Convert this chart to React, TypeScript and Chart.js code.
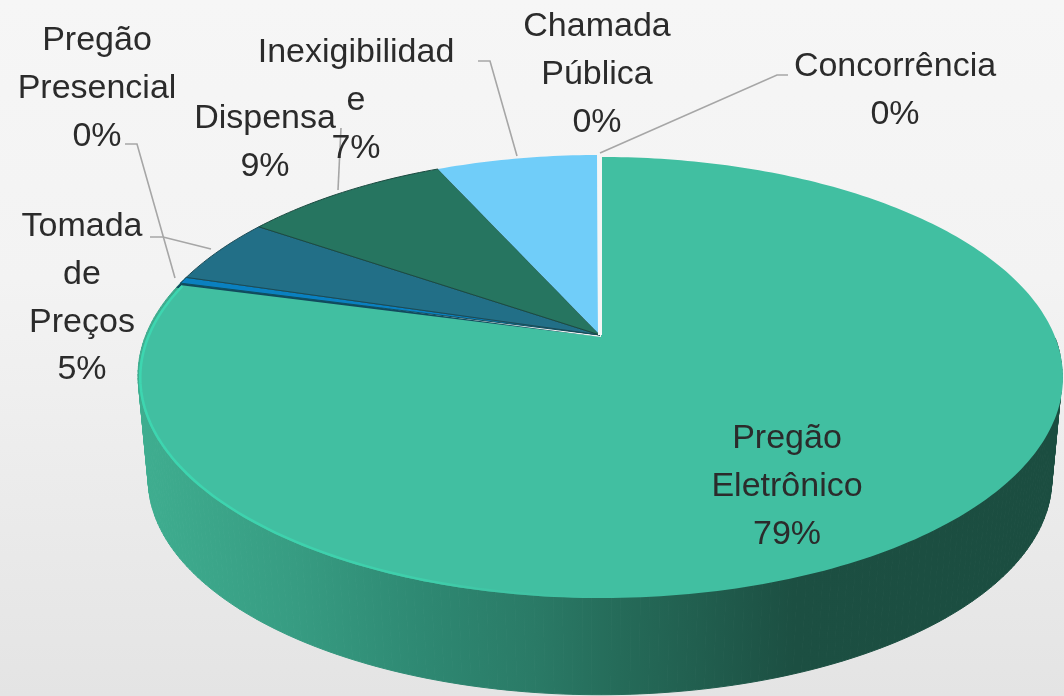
import React, { useEffect, useRef } from "react";
import { Chart, registerables } from "chart.js";

Chart.register(...registerables);

const categories = ["Pregão Eletrônico", "Pregão Presencial", "Tomada de Preços", "Dispensa", "Inexigibilidade", "Chamada Pública", "Concorrência"];
const shares = [79.1, 0.49, 4.87, 8.7, 6.8, 0.02, 0.02];
const sliceColors = ["#41bfa1", "#0a80c0", "#226f87", "#267560", "#70cdf9", "#f4f6f6", "#f4f6f6"];
const sliceBorders = ["#41bfa1", "#0f4f5e", "#1b4a55", "#1b4a40", "#70cdf9", "#f4f6f6", "#f4f6f6"];
const sliceBorderWidths = [0, 1, 1, 1, 0, 4, 4];
const labelLines = [
  ["Pregão", "Eletrônico"],
  ["Pregão", "Presencial"],
  ["Tomada", "de", "Preços"],
  ["Dispensa"],
  ["Inexigibilidad", "e"],
  ["Chamada", "Pública"],
  ["Concorrência"],
];
// label layout: centre x, first-line centre y
const labelAnchors = [[787, 439], [97, 41], [82, 227], [265, 119], [356, 53], [597, 27], [895, 67]];
const leaderLines = [
  null,
  [[125, 144], [137, 144], [175, 278]],
  [[150, 237], [163, 237], [211, 249]],
  [[341, 128], [338, 190]],
  [[478, 61], [490, 61], [517, 156]],
  null,
  [[788, 75], [777, 75], [600, 153]],
];

const geo = { cx: 600, cy: 335, a: 454.1, b: 213.1, k: 0.1837, ringCy: 377, ringScale: 0.978, depth: 103.5 };

function top(theta: number, dx = 0, dy = 0): [number, number] {
  const u = Math.cos(theta), v = Math.sin(theta);
  const w = 1 - geo.k * v;
  return [geo.cx + (geo.a * u) / w + dx, geo.cy + (geo.b * v) / w + dy];
}
function low(theta: number): [number, number] {
  const [x, y] = top(theta);
  return [geo.cx + geo.ringScale * (x - geo.cx), geo.ringCy + geo.ringScale * (y - geo.ringCy) + geo.depth];
}
function samples(s: number, e: number) {
  const n = Math.max(2, Math.ceil(((e - s) / (Math.PI * 2)) * 360));
  const out: number[] = [];
  for (let i = 0; i <= n; i++) out.push(s + ((e - s) * i) / n);
  return out;
}

const pie3d = {
  id: "pie3d",
  beforeDatasetsDraw(chart: any) {
    const ctx = chart.ctx as CanvasRenderingContext2D;
    const arcs = chart.getDatasetMeta(0).data as any[];
    ctx.save();
    // side wall
    const g = ctx.createLinearGradient(138, 0, 1063, 0);
    g.addColorStop(0, "#3fae90");
    g.addColorStop(0.17, "#379c82");
    g.addColorStop(0.31, "#2e8872");
    g.addColorStop(0.43, "#2a7a66");
    g.addColorStop(0.52, "#256b59");
    g.addColorStop(0.71, "#1c4f42");
    g.addColorStop(1, "#1b4d40");
    arcs.forEach((arc, i) => {
      const { startAngle: s, endAngle: e } = arc.getProps(["startAngle", "endAngle"]);
      const pts = samples(s, e);
      const fill = i === 0 ? g : "#124a5c";
      ctx.fillStyle = fill;
      ctx.strokeStyle = fill;
      ctx.lineWidth = 1;
      for (let j = 0; j < pts.length - 1; j++) {
        if (Math.sin(pts[j]) < (i === 0 ? 0 : -0.3) && i <= 1 ? (i === 1 ? false : Math.cos(pts[j]) > 0) : i > 1) continue;
        const a = top(pts[j]), b = top(pts[j + 1]), c = low(pts[j + 1]), d = low(pts[j]);
        ctx.beginPath();
        ctx.moveTo(a[0], a[1]);
        ctx.lineTo(b[0], b[1]);
        ctx.lineTo(c[0], c[1]);
        ctx.lineTo(d[0], d[1]);
        ctx.closePath();
        ctx.fill();
        ctx.stroke();
      }
    });
    // dark seam under the thin slice
    {
      const { endAngle: e } = arcs[0].getProps(["endAngle"]);
      const p1 = top(e - 0.025, 0, 0), p2 = top(e + 0.01, 0, 0);
      ctx.beginPath();
      ctx.moveTo(geo.cx, geo.cy + 2);
      ctx.lineTo(p1[0], p1[1]);
      ctx.lineTo(p2[0], p2[1]);
      ctx.closePath();
      ctx.fillStyle = "#124a5c";
      ctx.fill();
    }
    // faces: first slice last
    const order = [1, 2, 3, 4, 0, 5, 6];
    order.forEach((i) => {
      const arc = arcs[i];
      const { startAngle: s, endAngle: e } = arc.getProps(["startAngle", "endAngle"]);
      const dx = i === 0 ? 1 : 0;
      const dy = i === 0 ? 2 : 0;
      const path = new Path2D();
      path.moveTo(geo.cx + dx, geo.cy + dy);
      samples(s, e).forEach((t) => {
        const [x, y] = top(t, dx, dy);
        path.lineTo(x, y);
      });
      path.closePath();
      ctx.fillStyle = arc.options.backgroundColor;
      ctx.fill(path);
      if (arc.options.borderWidth > 0) {
        ctx.strokeStyle = arc.options.borderColor;
        ctx.lineWidth = arc.options.borderWidth;
        ctx.stroke(path);
      }
      if (i === 0) {
        ctx.save();
        ctx.clip(path);
        const rim = new Path2D();
        samples(s, e).forEach((t, j) => {
          const [x, y] = top(t, dx, dy);
          j ? rim.lineTo(x, y) : rim.moveTo(x, y);
        });
        const rg = ctx.createLinearGradient(140, 0, 620, 0);
        rg.addColorStop(0, "#3dd6b0");
        rg.addColorStop(0.6, "#3fcfab");
        rg.addColorStop(1, "rgba(65,191,161,0)");
        ctx.strokeStyle = rg;
        ctx.lineWidth = 5;
        ctx.stroke(rim);
        ctx.restore();
      }
    });
    ctx.restore();
    return false;
  },
  afterDraw(chart: any) {
    const ctx = chart.ctx as CanvasRenderingContext2D;
    const vals = chart.data.datasets[0].data as number[];
    const total = vals.reduce((p, c) => p + c, 0);
    ctx.save();
    ctx.strokeStyle = "#a6a6a6";
    ctx.lineWidth = 1.6;
    leaderLines.forEach((ln) => {
      if (!ln) return;
      ctx.beginPath();
      ln.forEach(([x, y], j) => (j ? ctx.lineTo(x, y) : ctx.moveTo(x, y)));
      ctx.stroke();
    });
    ctx.fillStyle = "#2b2b2b";
    ctx.font = '34px "Liberation Sans"';
    ctx.textAlign = "center";
    ctx.textBaseline = "middle";
    labelLines.forEach((lines, i) => {
      const [x, y0] = labelAnchors[i];
      const all = [...lines, `${Math.round((vals[i] / total) * 100)}%`];
      all.forEach((t, j) => ctx.fillText(t, x, y0 + j * 47.6));
    });
    ctx.restore();
  },
};

export default function App() {
  const ref = useRef<HTMLCanvasElement>(null);
  useEffect(() => {
    const chart = new Chart(ref.current!, {
      type: "pie",
      data: {
        labels: categories,
        datasets: [{ data: shares, backgroundColor: sliceColors, borderColor: sliceBorders, borderWidth: sliceBorderWidths }],
      },
      options: {
        responsive: false,
        animation: false,
        rotation: 0,
        plugins: { legend: { display: false }, tooltip: { enabled: false } },
      },
      plugins: [pie3d],
    } as any);
    return () => chart.destroy();
  }, []);
  return (
    <div style={{ position: "fixed", left: 0, top: 0, width: 1064, height: 696, background: "linear-gradient(180deg,#f6f6f6 0%,#f3f3f3 40%,#e4e4e4 100%)" }}>
      <canvas ref={ref} width={1064} height={696} style={{ display: "block" }} />
    </div>
  );
}
